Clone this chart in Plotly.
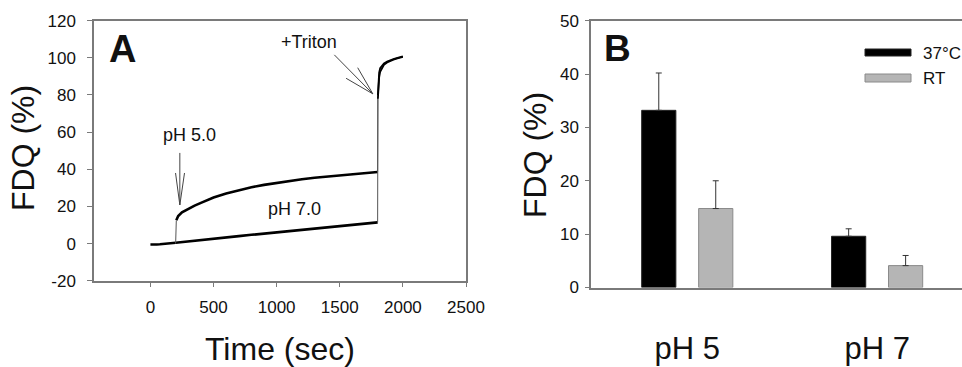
import plotly.graph_objects as go

W, H = 962, 367
FONT = "Arial, Liberation Sans, Helvetica, sans-serif"
TXT = "#111111"
AX = "#7a7a7a"

# ---------------- Panel A data (time in sec, FDQ in %) ----------------
base_t = [0, 25, 50, 75, 100, 125, 150, 175, 200]
base_y = [-0.5, -0.7, -0.5, -0.4, -0.3, -0.1, 0.0, 0.2, 0.4]

ph5_t = [205, 220, 250, 300, 350, 400, 450, 500, 600, 700, 800, 900, 1000,
         1100, 1200, 1300, 1400, 1500, 1600, 1700, 1800]
ph5_y = [12.5, 14.8, 16.8, 18.7, 20.4, 21.9, 23.4, 24.8, 27.0, 28.8, 30.3,
         31.6, 32.7, 33.7, 34.6, 35.4, 36.1, 36.8, 37.4, 38.0, 38.5]

ph7_t = [200, 300, 400, 500, 600, 700, 800, 900, 1000, 1100, 1200, 1300,
         1400, 1500, 1600, 1700, 1800]
ph7_y = [0.4, 1.2, 1.8, 2.5, 3.2, 4.0, 4.7, 5.4, 6.0, 6.8, 7.5, 8.2, 8.9,
         9.6, 10.2, 10.8, 11.4]

triton5_t = [1802, 1806, 1812, 1820, 1835, 1850, 1875, 1900, 1925, 1950, 1975, 2000]
triton5_y = [80.0, 87.0, 92.0, 94.5, 96.0, 97.0, 98.0, 98.8, 99.3, 99.8, 100.3, 100.8]
triton7_t = [1802, 1806, 1812, 1820, 1835, 1850, 1875, 1900, 1925, 1950, 1975, 2000]
triton7_y = [78.0, 84.0, 89.5, 92.5, 94.8, 96.2, 97.5, 98.4, 99.0, 99.6, 100.0, 100.5]

x_ticks_a = [0, 500, 1000, 1500, 2000, 2500]
y_ticks_a = [-20, 0, 20, 40, 60, 80, 100, 120]

# ---------------- Panel B data ----------------
categories = ["pH 5", "pH 7"]
series = ["37°C", "RT"]
values_37 = [33.2, 9.6]
err_37 = [7.0, 1.4]
values_rt = [14.8, 4.1]
err_rt = [5.2, 1.9]
y_ticks_b = [0, 10, 20, 30, 40, 50]

bar_colors = ["#000000", "#b5b5b5"]
bar_lines = ["#222222", "#8a8a8a"]


def px_x(p):
    return p / W


def px_y(p):
    return 1 - p / H


fig = go.Figure()

# Panel A traces
line_main = dict(color="#000000", width=2.6)
line_thin = dict(color="#555555", width=1)
fig.add_trace(go.Scatter(x=base_t, y=base_y, mode="lines", line=line_main,
                         xaxis="x", yaxis="y", showlegend=False))
fig.add_trace(go.Scatter(x=ph7_t, y=ph7_y, mode="lines", line=line_main,
                         xaxis="x", yaxis="y", showlegend=False))
fig.add_trace(go.Scatter(x=ph5_t, y=ph5_y, mode="lines", line=line_main,
                         xaxis="x", yaxis="y", showlegend=False))
# thin jump segments (connecting segment endpoints)
fig.add_trace(go.Scatter(x=[base_t[-1], ph5_t[0]], y=[base_y[-1], ph5_y[0]],
                         mode="lines", line=line_thin, xaxis="x", yaxis="y",
                         showlegend=False))
fig.add_trace(go.Scatter(x=[ph5_t[-1], triton5_t[0]], y=[ph5_y[-1], triton5_y[0]],
                         mode="lines", line=line_thin, xaxis="x", yaxis="y",
                         showlegend=False))
fig.add_trace(go.Scatter(x=[ph7_t[-1], triton7_t[0]], y=[ph7_y[-1], triton7_y[0]],
                         mode="lines", line=line_thin, xaxis="x", yaxis="y",
                         showlegend=False))
fig.add_trace(go.Scatter(x=triton7_t, y=triton7_y, mode="lines",
                         line=dict(color="#000000", width=1.8),
                         xaxis="x", yaxis="y", showlegend=False))
fig.add_trace(go.Scatter(x=triton5_t, y=triton5_y, mode="lines",
                         line=dict(color="#000000", width=1.8),
                         xaxis="x", yaxis="y", showlegend=False))

# Panel B bars
cat_x = list(range(len(categories)))
for name, vals, errs, col, lc in zip(series, [values_37, values_rt], [err_37, err_rt],
                                      bar_colors, bar_lines):
    fig.add_trace(go.Bar(
        x=cat_x, y=vals, name=name, xaxis="x2", yaxis="y2",
        marker=dict(color=col, line=dict(color=lc, width=1)),
        error_y=dict(type="data", array=errs, arrayminus=[0] * len(errs),
                     symmetric=False, color="#333333", thickness=1, width=3),
        showlegend=False))

fig.update_layout(
    width=W, height=H,
    margin=dict(l=0, r=0, t=0, b=0, autoexpand=False),
    paper_bgcolor="white", plot_bgcolor="white",
    font=dict(family=FONT, color=TXT, size=17),
    barmode="group", bargap=0.4, bargroupgap=0.4,
    xaxis=dict(domain=[px_x(94), px_x(466)], range=[-447, 2500],
               tickvals=x_ticks_a, ticktext=[str(v) for v in x_ticks_a],
               showline=True, linecolor=AX, linewidth=1.5, mirror=True,
               ticks="outside", ticklen=5, tickcolor=AX, showgrid=False,
               zeroline=False, ticklabelstandoff=5, automargin=False,
               tickfont=dict(size=17, color=TXT), anchor="y"),
    yaxis=dict(domain=[px_y(280.7), px_y(20.7)], range=[-20, 120],
               tickvals=y_ticks_a, ticktext=[str(v) for v in y_ticks_a],
               showline=True, linecolor=AX, linewidth=1.5,
               mirror=True, ticks="outside", ticklen=5, tickcolor=AX,
               showgrid=False, zeroline=False, ticklabelstandoff=8,
               automargin=False,
               tickfont=dict(size=17, color=TXT), anchor="x"),
    xaxis2=dict(domain=[px_x(591), 1.0], range=[-0.507, 1.447],
                tickvals=cat_x, ticktext=categories,
                showline=True, linecolor=AX, linewidth=1.5, mirror=True,
                ticks="", showgrid=False, zeroline=False,
                ticklabelstandoff=33, automargin=False,
                tickfont=dict(size=31, color=TXT), anchor="y2"),
    yaxis2=dict(domain=[px_y(287.5), px_y(20.7)], range=[0, 50],
                tickvals=y_ticks_b, ticktext=[str(v) for v in y_ticks_b],
                showline=True, linecolor=AX, linewidth=1.5,
                ticks="outside", ticklen=4, tickcolor=AX, showgrid=False,
                zeroline=False, ticklabelstandoff=3, automargin=False,
                tickfont=dict(size=17, color=TXT), anchor="x2"),
)

annotations = [
    # axis titles
    dict(text="Time (sec)", x=px_x(280), y=px_y(349), font=dict(size=32)),
    dict(text="FDQ (%)", x=px_x(23), y=px_y(148), textangle=-90, font=dict(size=32)),
    dict(text="FDQ (%)", x=px_x(535), y=px_y(155), textangle=-90, font=dict(size=32)),
    # panel letters
    dict(text="<b>A</b>", x=px_x(122), y=px_y(49), font=dict(size=38)),
    dict(text="<b>B</b>", x=px_x(617), y=px_y(49), font=dict(size=37)),
    # legend texts
    dict(text=series[0], x=px_x(921), y=px_y(53), xanchor="left", font=dict(size=17)),
    dict(text=series[1], x=px_x(921), y=px_y(78), xanchor="left", font=dict(size=17)),
]
for a in annotations:
    a.setdefault("xanchor", "center")
    a.update(xref="paper", yref="paper", yanchor="middle", showarrow=False)

# panel A labels in data coords
annotations += [
    dict(text="+Triton", x=1258, y=108.6, xref="x", yref="y", showarrow=False,
         font=dict(size=18)),
    dict(text="pH 5.0", x=313, y=58.4, xref="x", yref="y", showarrow=False,
         font=dict(size=18)),
    dict(text="pH 7.0", x=1139, y=18.6, xref="x", yref="y", showarrow=False,
         font=dict(size=18)),
]
fig.update_layout(annotations=annotations)

# arrows (decorations) as open-V paths in data coordinates of panel A
arrow_ph5 = [(233, 48.8), (233, 20.8)]
arrow_ph5_arms = [(199, 38.0), (233, 20.8), (270, 38.0)]
arrow_tr = [(1457, 101.6), (1762, 80.6)]
arrow_tr_arms = [(1642, 94.7), (1762, 80.6), (1550, 89.0)]


def path(pts):
    return "M " + " L ".join(f"{x},{y}" for x, y in pts)


shapes = []
for pts in [arrow_ph5, arrow_ph5_arms, arrow_tr, arrow_tr_arms]:
    shapes.append(dict(type="path", path=path(pts), xref="x", yref="y",
                       line=dict(color="#444444", width=1)))

# legend swatches
shapes.append(dict(type="rect", xref="paper", yref="paper",
                   x0=px_x(865), x1=px_x(911), y0=px_y(56), y1=px_y(49),
                   fillcolor=bar_colors[0], line=dict(color=bar_lines[0], width=1)))
shapes.append(dict(type="rect", xref="paper", yref="paper",
                   x0=px_x(865), x1=px_x(911), y0=px_y(82), y1=px_y(74),
                   fillcolor=bar_colors[1], line=dict(color=bar_lines[1], width=1)))
fig.update_layout(shapes=shapes)

fig.write_html("out.html",
               config={"displayModeBar": False},
               post_script="document.body.style.margin='0px';"
                           "document.body.style.overflow='hidden';")
